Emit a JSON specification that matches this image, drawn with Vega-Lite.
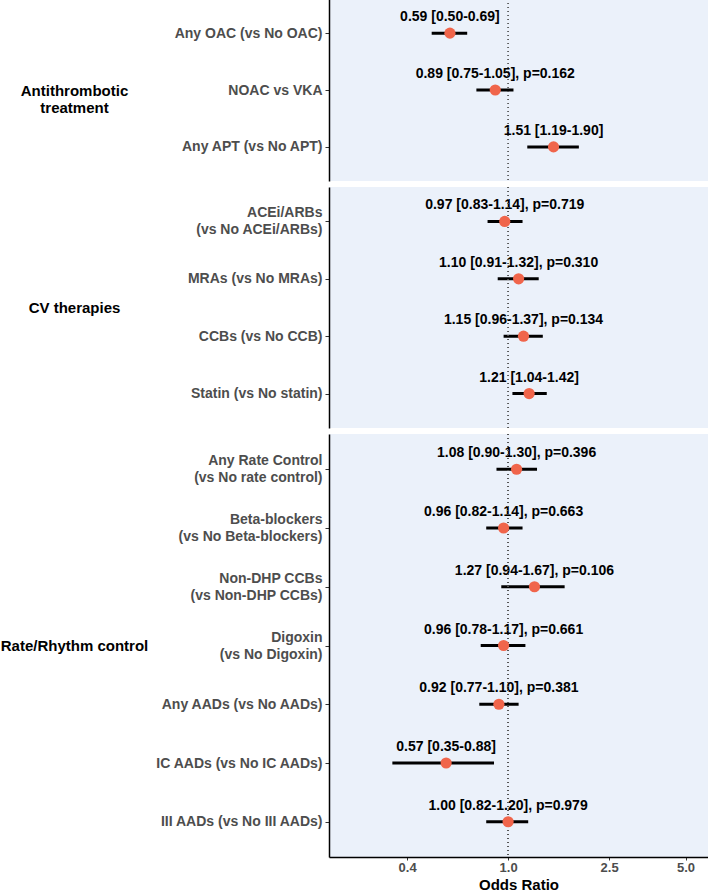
{
  "$schema": "https://vega.github.io/schema/vega-lite/v6.json",
  "padding": {"top": -2, "left": 0, "right": 0, "bottom": 0},
  "autosize": {"type": "pad"},
  "spacing": 6,
  "bounds": "flush",
  "datasets": {
    "d": [
      {"group": "Antithrombotic treatment", "label": "Any OAC (vs No OAC)", "or": 0.59, "lo": 0.50, "hi": 0.69, "txt": "0.59 [0.50-0.69]"},
      {"group": "Antithrombotic treatment", "label": "NOAC vs VKA", "or": 0.89, "lo": 0.75, "hi": 1.05, "txt": "0.89 [0.75-1.05], p=0.162"},
      {"group": "Antithrombotic treatment", "label": "Any APT (vs No APT)", "or": 1.51, "lo": 1.19, "hi": 1.90, "txt": "1.51 [1.19-1.90]"},
      {"group": "CV therapies", "label": "ACEi/ARBs|(vs No ACEi/ARBs)", "or": 0.97, "lo": 0.83, "hi": 1.14, "txt": "0.97 [0.83-1.14], p=0.719"},
      {"group": "CV therapies", "label": "MRAs (vs No MRAs)", "or": 1.10, "lo": 0.91, "hi": 1.32, "txt": "1.10 [0.91-1.32], p=0.310"},
      {"group": "CV therapies", "label": "CCBs (vs No CCB)", "or": 1.15, "lo": 0.96, "hi": 1.37, "txt": "1.15 [0.96-1.37], p=0.134"},
      {"group": "CV therapies", "label": "Statin (vs No statin)", "or": 1.21, "lo": 1.04, "hi": 1.42, "txt": "1.21 [1.04-1.42]"},
      {"group": "Rate/Rhythm control", "label": "Any Rate Control|(vs No rate control)", "or": 1.08, "lo": 0.90, "hi": 1.30, "txt": "1.08 [0.90-1.30], p=0.396"},
      {"group": "Rate/Rhythm control", "label": "Beta-blockers|(vs No Beta-blockers)", "or": 0.96, "lo": 0.82, "hi": 1.14, "txt": "0.96 [0.82-1.14], p=0.663"},
      {"group": "Rate/Rhythm control", "label": "Non-DHP CCBs|(vs Non-DHP CCBs)", "or": 1.27, "lo": 0.94, "hi": 1.67, "txt": "1.27 [0.94-1.67], p=0.106"},
      {"group": "Rate/Rhythm control", "label": "Digoxin|(vs No Digoxin)", "or": 0.96, "lo": 0.78, "hi": 1.17, "txt": "0.96 [0.78-1.17], p=0.661"},
      {"group": "Rate/Rhythm control", "label": "Any AADs (vs No AADs)", "or": 0.92, "lo": 0.77, "hi": 1.10, "txt": "0.92 [0.77-1.10], p=0.381"},
      {"group": "Rate/Rhythm control", "label": "IC AADs (vs No IC AADs)", "or": 0.57, "lo": 0.35, "hi": 0.88, "txt": "0.57 [0.35-0.88]"},
      {"group": "Rate/Rhythm control", "label": "III AADs (vs No III AADs)", "or": 1.00, "lo": 0.82, "hi": 1.20, "txt": "1.00 [0.82-1.20], p=0.979"}
    ]
  },
  "vconcat": [
    {
      "data": {"name": "d"},
      "transform": [{"filter": "datum.group == 'Antithrombotic treatment'"}],
      "width": 379,
      "height": 182,
      "layer": [
        {"mark": {"type": "rule", "color": "black", "strokeWidth": 3}, "encoding": {
          "y": {"field": "label", "type": "nominal", "sort": null, "scale": {"type": "point", "padding": 0.6}, "axis": {"title": ["Antithrombotic", "treatment"], "titleX": -255, "titleY": 91}},
          "x": {"field": "lo", "type": "quantitative", "scale": {"type": "log", "domain": [0.197, 6.13], "nice": false}, "axis": null}, "x2": {"field": "hi"}}},
        {"mark": {"type": "text", "font": "Liberation Sans", "fontWeight": "bold", "fontSize": 14, "color": "black", "dy": -16, "baseline": "middle"}, "encoding": {"y": {"field": "label", "type": "nominal", "sort": null}, "x": {"field": "or", "type": "quantitative"}, "text": {"field": "txt"}}},
        {"mark": {"type": "rule", "color": "#555555", "strokeDash": [1, 3], "strokeWidth": 1}, "encoding": {"x": {"datum": 1}}},
        {"mark": {"type": "point", "filled": true, "size": 125, "color": "#F0654B", "opacity": 1}, "encoding": {"y": {"field": "label", "type": "nominal", "sort": null}, "x": {"field": "or", "type": "quantitative"}}}
      ]
    },
    {
      "data": {"name": "d"},
      "transform": [{"filter": "datum.group == 'CV therapies'"}],
      "width": 379,
      "height": 241,
      "layer": [
        {"mark": {"type": "rule", "color": "black", "strokeWidth": 3}, "encoding": {
          "y": {"field": "label", "type": "nominal", "sort": null, "scale": {"type": "point", "padding": 0.6}, "axis": {"title": "CV therapies", "titleX": -255, "titleY": 120.5}},
          "x": {"field": "lo", "type": "quantitative", "scale": {"type": "log", "domain": [0.197, 6.13], "nice": false}, "axis": null}, "x2": {"field": "hi"}}},
        {"mark": {"type": "text", "font": "Liberation Sans", "fontWeight": "bold", "fontSize": 14, "color": "black", "dy": -16, "baseline": "middle"}, "encoding": {"y": {"field": "label", "type": "nominal", "sort": null}, "x": {"field": "or", "type": "quantitative"}, "text": {"field": "txt"}}},
        {"mark": {"type": "rule", "color": "#555555", "strokeDash": [1, 3], "strokeWidth": 1}, "encoding": {"x": {"datum": 1}}},
        {"mark": {"type": "point", "filled": true, "size": 125, "color": "#F0654B", "opacity": 1}, "encoding": {"y": {"field": "label", "type": "nominal", "sort": null}, "x": {"field": "or", "type": "quantitative"}}}
      ]
    },
    {
      "data": {"name": "d"},
      "transform": [{"filter": "datum.group == 'Rate/Rhythm control'"}],
      "width": 379,
      "height": 423,
      "layer": [
        {"mark": {"type": "rule", "color": "black", "strokeWidth": 3}, "encoding": {
          "y": {"field": "label", "type": "nominal", "sort": null, "scale": {"type": "point", "padding": 0.6}, "axis": {"title": "Rate/Rhythm control", "titleX": -255, "titleY": 211.5}},
          "x": {"field": "lo", "type": "quantitative", "title": "Odds Ratio", "scale": {"type": "log", "domain": [0.197, 6.13], "nice": false},
          "axis": {"values": [0.4, 1, 2.5, 5], "format": ".1f", "domainColor": "black", "domainWidth": 1.5, "tickColor": "#333333", "tickSize": 3, "labelPadding": 1, "labelFont": "Liberation Sans", "labelFontWeight": "bold", "labelFontSize": 13, "labelColor": "#4D4D4D", "titleFont": "Liberation Sans", "titleFontWeight": "bold", "titleFontSize": 15, "titleColor": "black", "titlePadding": 3, "grid": false}}, "x2": {"field": "hi"}}},
        {"mark": {"type": "text", "font": "Liberation Sans", "fontWeight": "bold", "fontSize": 14, "color": "black", "dy": -16, "baseline": "middle"}, "encoding": {"y": {"field": "label", "type": "nominal", "sort": null}, "x": {"field": "or", "type": "quantitative"}, "text": {"field": "txt"}}},
        {"mark": {"type": "rule", "color": "#555555", "strokeDash": [1, 3], "strokeWidth": 1}, "encoding": {"x": {"datum": 1}}},
        {"mark": {"type": "point", "filled": true, "size": 125, "color": "#F0654B", "opacity": 1}, "encoding": {"y": {"field": "label", "type": "nominal", "sort": null}, "x": {"field": "or", "type": "quantitative"}}}
      ]
    }
  ],
  "config": {
    "view": {"stroke": null, "fill": "#EBF1FA"},
    "axisY": {
      "labelExpr": "split(datum.label, '|')",
      "labelOffset": {"condition": {"test": "indexof(datum.value, '|') >= 0", "value": -8.5}, "value": 0},
      "domainColor": "black", "domainWidth": 1.5,
      "tickColor": "#333333", "tickSize": 4, "labelPadding": 3,
      "labelFont": "Liberation Sans", "labelFontWeight": "bold", "labelFontSize": 14, "labelColor": "#4D4D4D", "labelLineHeight": 17,
      "titleAngle": 0, "titleAlign": "center", "titleBaseline": "middle", "titleFont": "Liberation Sans", "titleFontWeight": "bold", "titleFontSize": 15, "titleColor": "black", "titleLineHeight": 17,
      "grid": false
    }
  }
}
